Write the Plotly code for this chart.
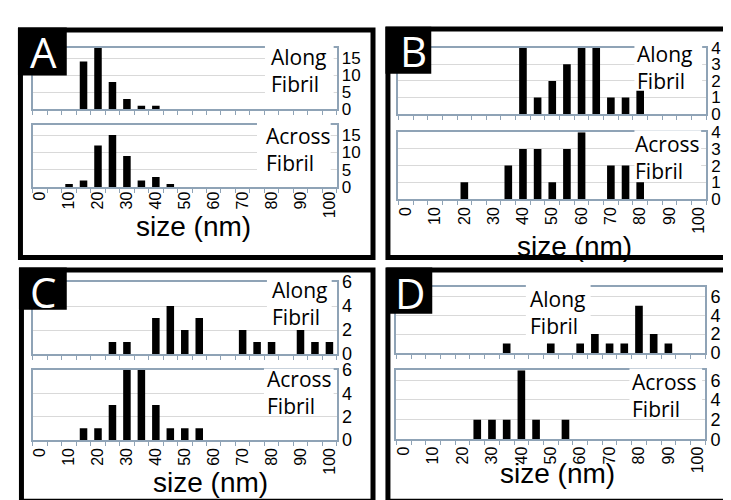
import plotly.graph_objects as go

W, H = 731, 500

# ---------------- data (size in nm -> count) ----------------
a_along_x = [15, 20, 25, 30, 35, 40]
a_along_y = [14, 18, 8, 3, 1, 1]
a_across_x = [10, 15, 20, 25, 30, 35, 40, 45]
a_across_y = [1, 2, 12, 15, 9, 2, 3, 1]

b_along_x = [40, 45, 50, 55, 60, 65, 70, 75, 80]
b_along_y = [4, 1, 2, 3, 4, 4, 1, 1, 1.4]
b_across_x = [20, 35, 40, 45, 50, 55, 60, 70, 75, 80]
b_across_y = [1, 2, 3, 3, 1, 3, 4, 2, 2, 1]

c_along_x = [25, 30, 40, 45, 50, 55, 70, 75, 80, 90, 95, 100]
c_along_y = [1, 1, 3, 4, 2, 3, 2, 1, 1, 2, 1, 1]
c_across_x = [15, 20, 25, 30, 35, 40, 45, 50, 55]
c_across_y = [1, 1, 3, 6, 6, 3, 1, 1, 1]

d_along_x = [35, 50, 60, 65, 70, 75, 80, 85, 90]
d_along_y = [1, 1, 1, 2, 1, 1, 5, 2, 1]
d_across_x = [25, 30, 35, 40, 45, 55]
d_across_y = [2, 2, 2, 7, 2, 2]

x_tick_vals = [0, 10, 20, 30, 40, 50, 60, 70, 80, 90, 100]
x_tick_text = ["0", "10", "20", "30", "40", "50", "60", "70", "80", "90", "100"]
category_edges = [-2.5 + 5 * k for k in range(22)]

y_ticks_a = [0, 5, 10, 15]
y_ticks_b = [0, 1, 2, 3, 4]
y_ticks_c = [0, 2, 4, 6]
y_ticks_d = [0, 2, 4, 6]

panel_letters = ["A", "B", "C", "D"]
x_title = "size (nm)"
along_text = "Along<br>Fibril"
across_text = "Across<br>Fibril"

# ---------------- styling / layout helpers ----------------
FRAME = "#8fa3b6"
GRID = "#d9d9d9"
AXFONT = "Liberation Sans, Arial, sans-serif"
TXTFONT = "Open Sans, sans-serif"


def fx(p):
    return p / W


def fy(p):
    return 1 - p / H


# (x, y, left, right, top, bottom, ymax, yticks, show x labels, ytick font, label standoff)
subplots = [
    (a_along_x, a_along_y, 23, 328, 31, 95, 18, y_ticks_a, False, 17, 0),
    (a_across_x, a_across_y, 23, 328, 111, 176.5, 18, y_ticks_a, True, 17, -4),
    (b_along_x, b_along_y, 390, 699, 31, 100, 4, y_ticks_b, False, 17, 0),
    (b_across_x, b_across_y, 390, 699, 119, 188.5, 4, y_ticks_b, True, 17, 0),
    (c_along_x, c_along_y, 23, 328, 275, 350, 6, y_ticks_c, False, 18, 0),
    (c_across_x, c_across_y, 23, 328, 366.5, 439.5, 6, y_ticks_c, True, 18, 0),
    (d_along_x, d_along_y, 388, 698, 280, 349, 7, y_ticks_d, False, 18, 0),
    (d_across_x, d_across_y, 388, 698, 367, 439, 7, y_ticks_d, True, 18, -1),
]

fig = go.Figure()
layout = dict(
    width=W, height=H, margin=dict(l=0, r=0, t=0, b=0),
    paper_bgcolor="white", plot_bgcolor="white", showlegend=False,
)

for i, (xs, ys, l, r, t, b, ymax, yt, showx, yfs, stand) in enumerate(subplots, start=1):
    sx = "" if i == 1 else str(i)
    fig.add_trace(go.Bar(
        x=xs, y=ys, xaxis="x" + sx, yaxis="y" + sx,
        marker=dict(color="black", line=dict(width=0)), width=2.6,
        showlegend=False, hoverinfo="skip",
    ))
    layout["xaxis" + sx] = dict(
        domain=[fx(l), fx(r)], anchor="y" + sx, range=[-2.5, 102.5],
        showline=True, linecolor=FRAME, linewidth=1.5, mirror=True,
        showgrid=False, zeroline=False, ticks="",
        tickmode="array", tickvals=x_tick_vals, ticktext=x_tick_text,
        tickangle=-90, showticklabels=showx, ticklabelstandoff=stand,
        tickfont=dict(family=AXFONT, size=16, color="black"),
        minor=dict(ticks="outside", tickmode="array", tickvals=category_edges,
                   ticklen=4, tickcolor=FRAME, tickwidth=1, showgrid=False),
        fixedrange=True,
    )
    layout["yaxis" + sx] = dict(
        domain=[fy(b), fy(t)], anchor="x" + sx, range=[0, ymax],
        side="right", showline=True, linecolor=FRAME, linewidth=1.5, mirror=True,
        showgrid=True, gridcolor=GRID, gridwidth=1, zeroline=False, ticks="",
        tickmode="array", tickvals=yt,
        tickfont=dict(family=AXFONT, size=yfs, color="black"),
        fixedrange=True,
    )

fig.update_layout(**layout)

shapes = []
# white cut-outs behind the "Along/Across Fibril" labels
cutouts = [
    (256, 325, 29, 86), (248, 322, 109, 162),
    (627, 695, 29, 73), (627, 694, 117, 167),
    (258, 323, 273, 322), (255, 325, 365, 412),
    (518, 583, 278, 332), (622, 695, 365, 416),
]
for (l, r, t, b) in cutouts:
    shapes.append(dict(type="rect", xref="paper", yref="paper", layer="above",
                       x0=fx(l), x1=fx(r), y0=fy(b), y1=fy(t),
                       fillcolor="white", line=dict(width=0)))

# thick black panel frames
frames = [(8, 367, 10, 252), (377, 734, 9, 252), (9, 367, 260, 506), (377, 734, 260, 506)]
for (l, r, t, b) in frames:
    shapes.append(dict(type="rect", xref="paper", yref="paper", layer="above",
                       x0=fx(l + 2.5), x1=fx(r - 2.5), y0=fy(b - 2.5), y1=fy(t + 2.5),
                       fillcolor="rgba(0,0,0,0)", line=dict(color="black", width=5)))

# black boxes for the panel letters
letter_boxes = [(8, 57, 10, 60), (377, 423, 9, 58), (9, 57, 260, 304), (378, 424, 260, 308)]
for (l, r, t, b) in letter_boxes:
    shapes.append(dict(type="rect", xref="paper", yref="paper", layer="above",
                       x0=fx(l), x1=fx(r), y0=fy(b), y1=fy(t),
                       fillcolor="black", line=dict(width=0)))

annotations = []
letter_pos = [(34, 35), (405, 34), (33, 285), (402, 286)]
for txt, (x, y) in zip(panel_letters, letter_pos):
    annotations.append(dict(text=txt, x=fx(x), y=fy(y), xref="paper", yref="paper",
                            xanchor="center", yanchor="middle", showarrow=False,
                            font=dict(family=TXTFONT, size=42, color="white")))

label_pos = [
    (along_text, 261, 55), (across_text, 256, 137),
    (along_text, 629, 52), (across_text, 627, 145),
    (along_text, 262, 297), (across_text, 257, 390),
    (along_text, 521, 307), (across_text, 624, 393),
]
for txt, x, y in label_pos:
    annotations.append(dict(text=txt, x=fx(x), y=fy(y), xref="paper", yref="paper",
                            xanchor="left", yanchor="middle", align="left",
                            showarrow=False, borderpad=0,
                            font=dict(family=TXTFONT, size=21, color="black")))

title_pos = [(184, 217), (567, 238), (201, 484), (550, 474)]
for (x, y) in title_pos:
    annotations.append(dict(text=x_title, x=fx(x), y=fy(y), xref="paper", yref="paper",
                            xanchor="center", yanchor="middle", showarrow=False,
                            font=dict(family=AXFONT, size=28, color="black")))

fig.update_layout(shapes=shapes, annotations=annotations)
fig.write_html("out.html", config={"displayModeBar": False})
